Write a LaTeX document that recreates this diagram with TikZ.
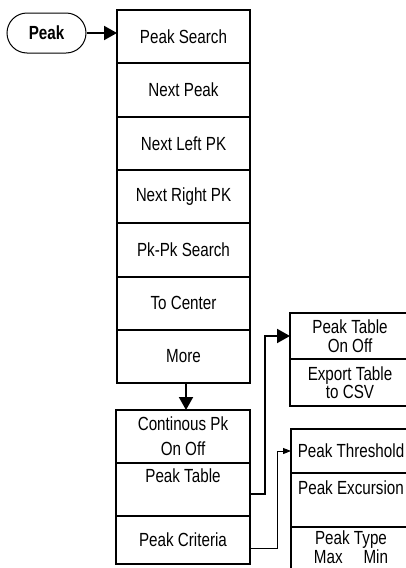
\documentclass[tikz,border=0pt]{standalone}
\usepackage{fontspec}
\setmainfont{Liberation Sans}[FakeStretch=0.8]
\usetikzlibrary{arrows.meta,calc}
\begin{document}
\begin{tikzpicture}[x=1pt,y=-1pt,
  box/.style={draw,line width=2pt,outer sep=0pt,inner sep=0pt,anchor=north,align=center,
     font=\fontsize{19}{19}\selectfont},
  mcol/.style={box,minimum width=133pt,minimum height=53.3pt},
  scol/.style={box,minimum width=134pt},
  rcol/.style={box,minimum width=120pt},
  conn/.style={line width=2pt,-{Triangle[length=13pt,width=14pt]}},
  thin/.style={line width=1pt,-{Triangle[length=8pt,width=6pt]}}]
\clip (0,0) rectangle (406,568);
% key
\node[draw,line width=1pt,rounded corners=20pt,minimum width=79pt,minimum height=40pt,
  font=\fontsize{19}{19}\selectfont\bfseries] (pk) at (46.5,33) {Peak};
% main column
\node[mcol] (ps) at (183.5,10) {Peak Search};
\node[mcol] (np) at (183.5,63.3) {Next Peak};
\node[mcol] (nl) at (183.5,116.6) {Next Left PK};
\node[mcol] (nr) at (183.5,169.9) {Next Right PK};
\node[mcol] (pp) at (183.5,223.2) {Pk-Pk Search};
\node[mcol] (tc) at (183.5,276.5) {To Center};
\node[mcol] (mo) at (183.5,329.8) {More};
% second column
\node[scol,minimum height=53pt,font=\fontsize{19}{25}\selectfont] (cont) at (183,410) {Continous Pk\\On Off};
\node[scol,minimum height=53pt] (ptab) at (183,463) {Peak Table\\[8pt]};
\node[scol,minimum height=48pt] (pc) at (183,516) {Peak Criteria};
% peak table submenu
\node[rcol,minimum height=46pt] (pto) at (350,313) {Peak Table\\On Off};
\node[rcol,minimum height=47pt,font=\fontsize{19}{17}\selectfont] (exp) at (350,359) {Export Table\\to CSV};
% peak criteria submenu
\node[rcol,minimum height=44pt] (thr) at (351,429) {Peak Threshold};
\node[rcol,minimum height=54pt] (exc) at (351,473) {Peak Excursion\\[6pt]};
\node[rcol,minimum height=60pt] (ptbox) at (351,527) {};
\node[align=center,inner sep=0pt,font=\fontsize{19}{19}\selectfont] (ptype) at (351,547.5) {Peak Type\\Max\hspace{1.1em}Min};
% connectors
\draw[conn] (pk.east) -- (pk.east -| ps.west);
\draw[conn] ([xshift=2.5pt]mo.south) -- ([xshift=2.5pt]mo.south |- cont.north);
\draw[conn] ([yshift=-4.5pt]ptab.east) -- ++(15,0) |- (pto.west);
\draw[thin] ([yshift=-8pt]pc.east) -- ++(27,0) |- (thr.west);
\end{tikzpicture}
\end{document}
